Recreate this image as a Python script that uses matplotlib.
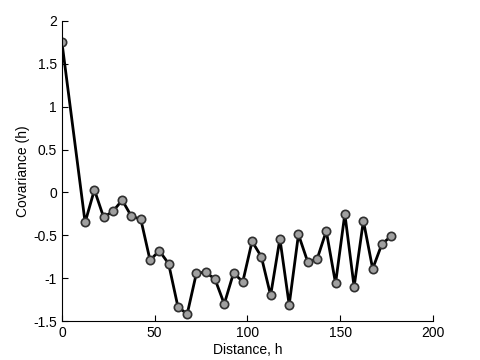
import matplotlib
matplotlib.use('Agg')
import matplotlib.pyplot as plt

plt.rcParams['font.family'] = ['Liberation Sans', 'DejaVu Sans']

distance = [0, 12.5, 17.5, 22.5, 27.5, 32.5, 37.5, 42.5, 47.5, 52.5, 57.5,
            62.5, 67.5, 72.5, 77.5, 82.5, 87.5, 92.5, 97.5, 102.5, 107.5,
            112.5, 117.5, 122.5, 127.5, 132.5, 137.5, 142.5, 147.5, 152.5,
            157.5, 162.5, 167.5, 172.5, 177.5]
covariance = [1.75, -0.35, 0.03, -0.29, -0.22, -0.09, -0.28, -0.31, -0.79,
              -0.68, -0.83, -1.33, -1.42, -0.94, -0.93, -1.01, -1.30, -0.94,
              -1.04, -0.57, -0.75, -1.20, -0.54, -1.31, -0.49, -0.81, -0.78,
              -0.45, -1.06, -0.25, -1.10, -0.33, -0.89, -0.60, -0.51]

fig = plt.figure(figsize=(4.8, 3.6), dpi=100)
ax = fig.add_axes([0.129, 0.108, 0.773, 0.834])
ax.plot(distance, covariance, '-', color='black', linewidth=2,
        marker='o', markersize=6, markerfacecolor='#a0a0a0',
        markeredgecolor='#303030', markeredgewidth=1.2)

ax.set_xlim(0, 200)
ax.set_ylim(-1.5, 2)
ax.set_xticks([0, 50, 100, 150, 200])
ax.set_yticks([-1.5, -1, -0.5, 0, 0.5, 1, 1.5, 2])
ax.set_yticklabels(['-1.5', '-1', '-0.5', '0', '0.5', '1', '1.5', '2'])
ax.spines['top'].set_visible(False)
ax.spines['right'].set_visible(False)
ax.tick_params(direction='in', labelsize=10, length=4)
ax.set_xlabel('Distance, h', fontsize=10, labelpad=2)
ax.set_ylabel('Covariance (h)', fontsize=10, labelpad=2)

fig.savefig('out.png', dpi=100)
